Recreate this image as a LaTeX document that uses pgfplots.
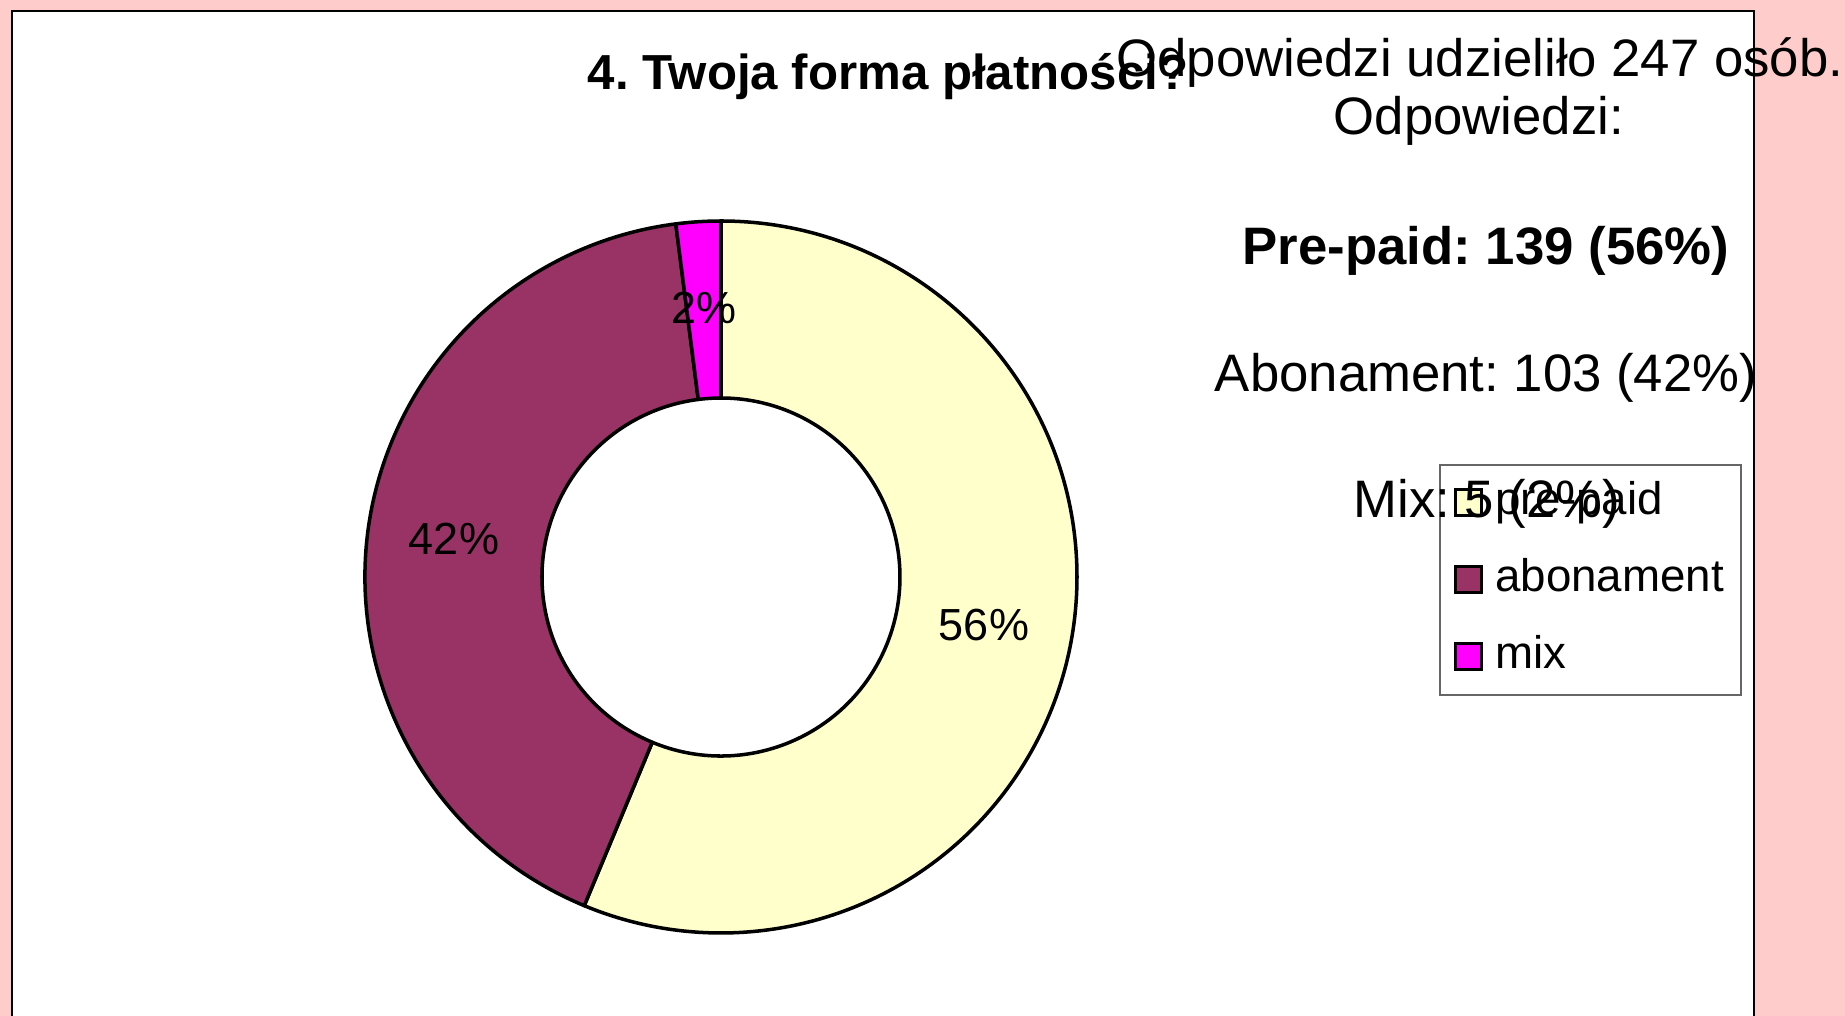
\documentclass[border=0pt]{standalone}
\usepackage{fontspec}
\setmainfont{Liberation Sans}
\usepackage{pgfplots}
\usepackage{pgfplotstable}
\pgfplotsset{compat=1.18}
\frenchspacing
\definecolor{bgpink}{HTML}{FFCCCC}
\definecolor{cprepaid}{HTML}{FFFFCC}
\definecolor{cabon}{HTML}{993366}
\definecolor{cmix}{HTML}{FF00FF}

\pgfplotstableread{
label count
pre-paid 139
abonament 103
mix 5
}\payments

\newcommand\donutslice[3]{%
  \filldraw[fill=#1, draw=black, line width=1pt, line join=round]
    ({721+356*cos(#2)},{439+356*sin(#2)}) arc[start angle=#2, end angle=#3, radius=356]
    -- ({721+179*cos(#3)},{439+179*sin(#3)}) arc[start angle=#3, end angle=#2, radius=179] -- cycle;}

\begin{document}
\begin{tikzpicture}[x=0.1mm,y=0.1mm]
\useasboundingbox (0,0) rectangle (1845,1016);
\fill[bgpink] (0,0) rectangle (1845,1016);
\fill[white] (12,0) rectangle (1754,1005);
\draw[line width=0.5pt] (12,0) -- (12,1005) -- (1754,1005) -- (1754,0);

\pgfplotstablegetelem{0}{count}\of\payments \let\va\pgfplotsretval
\pgfplotstablegetelem{1}{count}\of\payments \let\vb\pgfplotsretval
\pgfplotstablegetelem{2}{count}\of\payments \let\vc\pgfplotsretval
\pgfmathsetmacro\tot{\va+\vb+\vc}
\pgfmathsetmacro\aA{90}
\pgfmathsetmacro\aB{90-360*(\va/\tot)}
\pgfmathsetmacro\aC{\aB-360*(\vb/\tot)}
\pgfmathsetmacro\aD{\aC-360*(\vc/\tot)}

\begin{axis}[at={(0,0)}, anchor=south west, width=184.5mm, height=101.6mm,
  scale only axis, xmin=0, xmax=1845, ymin=0, ymax=1016, hide axis, clip=false,
  legend cell align=left,
  legend style={at={(axis cs:1439,552)}, anchor=north west, draw=black!60, fill=white,
    line width=0.5pt, inner xsep=1.4mm, inner ysep=1.7mm, row sep=3.5mm,
    font=\fontsize{13}{15}\selectfont,
    nodes={inner xsep=0.3mm, inner ysep=0pt, text height=3.3mm, text depth=0.9mm}}]
\donutslice{cprepaid}{\aA}{\aB}
\donutslice{cabon}{\aB}{\aC}
\donutslice{cmix}{\aC}{\aD}
\node[font=\fontsize{12.8}{15}\selectfont] at (axis cs:984,391) {56\%};
\node[font=\fontsize{12.8}{15}\selectfont] at (axis cs:454,477) {42\%};
\node[font=\fontsize{12.8}{15}\selectfont] at (axis cs:704,708) {2\%};
\addlegendimage{legend image code/.code={\filldraw[fill=cprepaid, draw=black, line width=0.9pt] (0mm,-1.3mm) rectangle (2.6mm,1.3mm); \path (3.6mm,0) ;}}
\addlegendentry{pre-paid}
\addlegendimage{legend image code/.code={\filldraw[fill=cabon, draw=black, line width=0.9pt] (0mm,-1.3mm) rectangle (2.6mm,1.3mm); \path (3.6mm,0) ;}}
\addlegendentry{abonament}
\addlegendimage{legend image code/.code={\filldraw[fill=cmix, draw=black, line width=0.9pt] (0mm,-1.3mm) rectangle (2.6mm,1.3mm); \path (3.6mm,0) ;}}
\addlegendentry{mix}
\end{axis}

\node[font=\bfseries\fontsize{14}{16}\selectfont, anchor=base] at (888,926) {4. Twoja forma płatności?};
\node[font=\fontsize{15}{18}\selectfont, anchor=base] at (1480,939) {Odpowiedzi udzieliło 247 osób.};
\node[font=\fontsize{15}{18}\selectfont, anchor=base] at (1479,881) {Odpowiedzi:};
\node[font=\bfseries\fontsize{15}{18}\selectfont, anchor=base] at (1486,751) {Pre-paid: 139 (56\%)};
\node[font=\fontsize{15}{18}\selectfont, anchor=base] at (1486,624) {Abonament: 103 (42\%)};
\node[font=\fontsize{15}{18}\selectfont, anchor=base] at (1487,498) {Mix: 5 (2\%)};
\end{tikzpicture}
\end{document}
